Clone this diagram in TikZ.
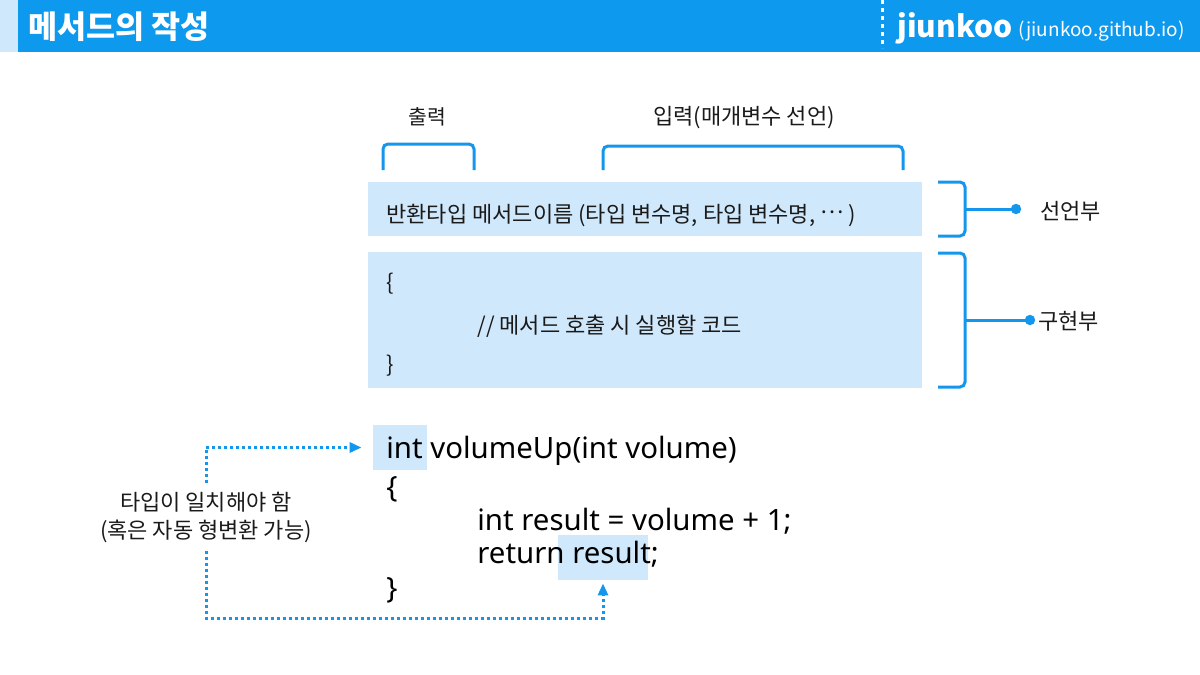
\documentclass[tikz,border=0pt]{standalone}
\usepackage{fontspec}
\setmainfont{Noto Sans CJK KR}
\newfontfamily\codefont{Noto Sans}
\usetikzlibrary{arrows.meta}
\definecolor{barblue}{HTML}{0C99EE}
\definecolor{paleblue}{HTML}{D0E8FB}
\definecolor{lineblue}{HTML}{1496EC}
\definecolor{inkgray}{HTML}{1A1A1A}

\begin{document}
\begin{tikzpicture}[x=0.5pt,y=-0.5pt,
    txt/.style={inner sep=0pt, anchor=base west, text=inkgray, font=\fontsize{11}{13}\selectfont},
    code/.style={inner sep=0pt, anchor=base west, text=black, font=\codefont\fontsize{14.7}{18}\selectfont},
    brk/.style={draw=lineblue, line width=1.5pt, rounded corners=2.5pt},
    hilite/.style={fill=paleblue, inner sep=0pt},
    pointer/.style={draw=lineblue, line width=1.5pt, dash pattern=on 1.5pt off 1.5pt, -{Triangle[length=6pt,width=5pt]}}]
    \useasboundingbox (0,0) rectangle (1200,675);

    % header
    \fill[paleblue] (0,0) rectangle (18,52);
    \fill[barblue] (18,0) rectangle (1200,52);
    \draw[white, line width=1.5pt, dash pattern=on 2pt off 2pt] (882,0) -- (882,48);
    \node[inner sep=0pt, anchor=base west, text=white, font=\fontsize{15.8}{18}\selectfont\bfseries] (title) at (28,38) {메서드의 작성};
    \node[inner sep=0pt, anchor=base west, text=white, font=\fontsize{15}{18}\selectfont\bfseries] (brand) at (897,37) {jiunkoo};
    \node[inner sep=0pt, anchor=base west, text=white, font=\fontsize{9.5}{12}\selectfont] (site) at (1018,36) {(jiunkoo.github.io)};

    % output / input brackets
    \node[txt, anchor=base, font=\fontsize{10.2}{12}\selectfont] (outlbl) at (427,124) {출력};
    \node[txt, anchor=base] (inlbl) at (744,124) {입력(매개변수 선언)};
    \draw[brk] (383,170) -- (383,144) -- (474,144) -- (474,170);
    \draw[brk] (603,170) -- (603,146) -- (903,146) -- (903,170);

    % declaration and body
    \node[hilite, minimum width=277pt, minimum height=27pt] (decl) at (645,209) {};
    \node[hilite, minimum width=277pt, minimum height=68pt] (body) at (645,320) {};
    \node[txt] (sig) at (386,222) {반환타입 메서드이름 (타입 변수명, 타입 변수명, \raisebox{0.38em}{…} )};
    \node[txt] (open) at (386,290) {\{};
    \node[txt] (cmt) at (477,333) {// 메서드 호출 시 실행할 코드};
    \node[txt] (close) at (386,372) {\}};

    % right side brackets
    \draw[brk] (938,182) -- (965,182) -- (965,236) -- (938,236);
    \draw[brk] (938,253) -- (965,253) -- (965,387) -- (938,387);
    \coordinate (dotA) at (1016,209);
    \coordinate (dotB) at (1030,320);
    \draw[lineblue, line width=1.5pt] (965,209) -- (dotA);
    \draw[lineblue, line width=1.5pt] (965,320) -- (dotB);
    \fill[lineblue] (dotA) circle (2.6pt);
    \fill[lineblue] (dotB) circle (2.6pt);
    \node[txt] (declpart) at (1040,219) {선언부};
    \node[txt] (bodypart) at (1038,329) {구현부};

    % example code
    \node[hilite, minimum width=27pt, minimum height=22.5pt] (intbox) at (400,447.5) {};
    \node[hilite, minimum width=45pt, minimum height=22.5pt] (resbox) at (603,557.5) {};
    \node[code] (line1) at (386,458) {int volumeUp(int volume)};
    \node[code] (line2) at (386,497) {\{};
    \node[code] (line3) at (477,530) {int result = volume + 1;};
    \node[code] (line4) at (477,563) {return result;};
    \node[code] (line5) at (386,598) {\}};

    % type match note
    \node[inner sep=0pt, inner ysep=4pt, align=center, text=inkgray, font=\fontsize{11}{14}\selectfont] (typenote) at (206,517) {타입이 일치해야 함\\(혹은 자동 형변환 가능)};
    \draw[pointer] (typenote.north) |- ([xshift=-5.5pt]intbox.west);
    \draw[pointer] (typenote.south) |- (603,618) -| ([yshift=-1.5pt]resbox.south);
\end{tikzpicture}
\end{document}
